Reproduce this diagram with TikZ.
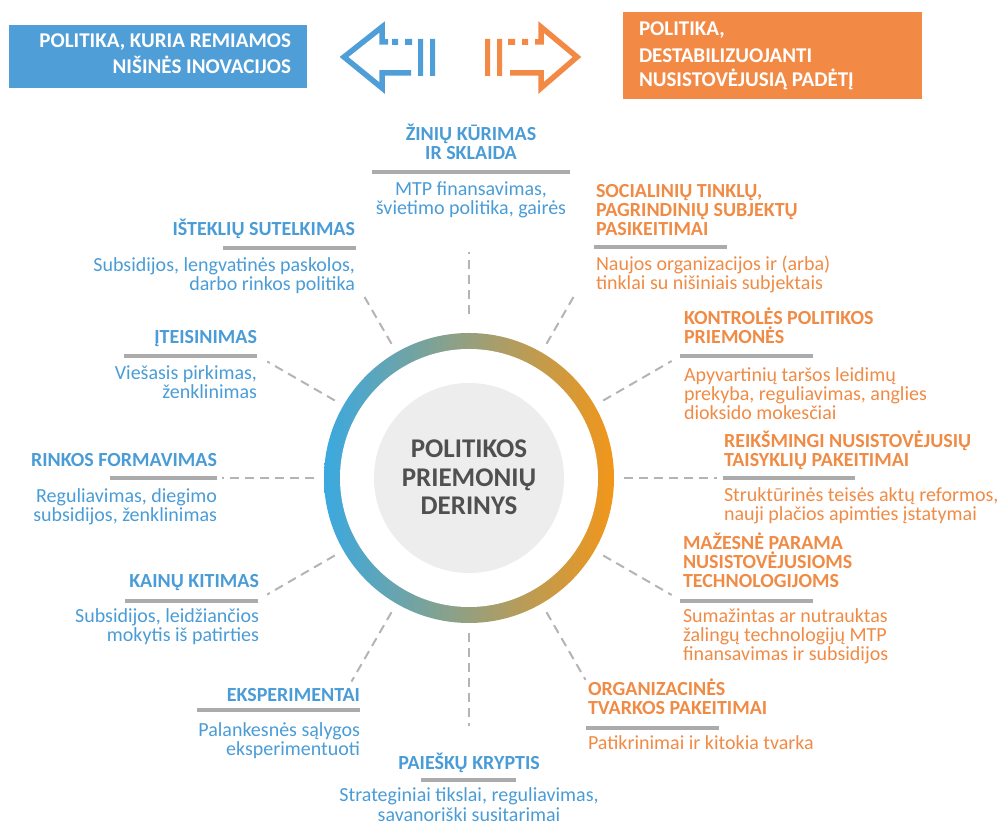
\documentclass[tikz,border=0pt]{standalone}
\usepackage{fontspec}
\setmainfont{Carlito}
\begin{document}
\begin{tikzpicture}[x=1pt, y=1pt, inner sep=0pt, outer sep=0pt,
  ttl/.style={font=\fontsize{20}{20}\selectfont\bfseries},
  txt/.style={font=\fontsize{20}{20}\selectfont},
  boxtxt/.style={font=\fontsize{21}{21}\selectfont\bfseries, text=white},
  rule/.style={line width=3.5pt, draw=G},
  spoke/.style={line width=2pt, draw=D, dash pattern=on 9pt off 6pt},
  arw/.style={line width=5.5pt, line join=miter}]
\useasboundingbox (0,0) rectangle (997,827);
\definecolor{B}{HTML}{4A9CD7}
\definecolor{O}{HTML}{F08B45}
\definecolor{BB}{HTML}{4F9ED7}
\definecolor{OB}{HTML}{F28A46}
\definecolor{G}{HTML}{ABABAB}
\definecolor{D}{HTML}{B4B4B4}
\definecolor{C}{HTML}{ECEDEC}
\definecolor{T}{HTML}{505050}
\definecolor{R1}{HTML}{3AA9E0}
\definecolor{R2}{HTML}{ABA894}
\definecolor{R3}{HTML}{F29619}
% top boxes
\fill[BB] (9,739) rectangle (307,802);
\node[boxtxt, anchor=base east] (lb1) at (291,779) {POLITIKA, KURIA REMIAMOS};
\node[boxtxt, anchor=base east] (lb2) at (291,753) {NIŠINĖS INOVACIJOS};
\fill[OB] (623,728) rectangle (922,815);
\node[boxtxt, anchor=base west] (rb1) at (639,791) {POLITIKA,};
\node[boxtxt, anchor=base west] (rb2) at (639,764) {DESTABILIZUOJANTI};
\node[boxtxt, anchor=base west] (rb3) at (639,740) {NUSISTOVĖJUSIĄ PADĖTĮ};
% arrows
\path[arw, draw=BB] (388,785) -- (382,785) -- (382,800) -- (344,770) -- (382,739) -- (382,754) -- (411,754);
\fill[BB] (392,782) rectangle (398,788) (405,782) rectangle (412,788);
\fill[BB] (418,751) rectangle (423,788) (430,751) rectangle (435,788);
\path[arw, draw=OB] (535,785) -- (541,785) -- (541,800) -- (577,770) -- (541,739) -- (541,754) -- (510,754);
\fill[OB] (522,782) rectangle (528,788) (508,782) rectangle (515,788);
\fill[OB] (497,751) rectangle (502,788) (485,751) rectangle (490,788);
% centre
\coordinate (c) at (469,349);
\shade[left color=R1, middle color=R2, right color=R3] (c) circle (145pt);
\fill[white] (c) circle (129pt);
\fill[C] (c) circle (95pt);
\node[font=\fontsize{27}{27}\selectfont\bfseries, text=T, anchor=base] (m1) at (469,369) {POLITIKOS};
\node[font=\fontsize{27}{27}\selectfont\bfseries, text=T, anchor=base] (m2) at (469,340) {PRIEMONIŲ};
\node[font=\fontsize{27}{27}\selectfont\bfseries, text=T, anchor=base] (m3) at (469,312) {DERINYS};
% spokes
\foreach \a/\p/\q in {90/164/226, 120/155/209, 150/155/233, 180/155/247, 210/155/233, 240/155/235,
  270/155/248, 300/155/233, 330/155/234, 0/155/248, 30/155/234, 60/155/209}
  \path[spoke] ([shift={(\a:\p)}]c) -- ([shift={(\a:\q)}]c);
% top and bottom
\node[ttl, text=B, anchor=base] (t0a) at (471,686) {ŽINIŲ KŪRIMAS};
\node[ttl, text=B, anchor=base] (t0b) at (471,667) {IR SKLAIDA};
\path[rule] (372,655) -- (570,655);
\node[txt, text=B, anchor=base] (b0a) at (471,631) {MTP finansavimas,};
\node[txt, text=B, anchor=base] (b0b) at (471,612) {švietimo politika, gairės};
\node[ttl, text=B, anchor=base] (t11) at (469,57) {PAIEŠKŲ KRYPTIS};
\path[rule] (421,47) -- (516,47);
\node[txt, text=B, anchor=base] (b11a) at (469,25) {Strateginiai tikslai, reguliavimas,};
\node[txt, text=B, anchor=base] (b11b) at (469,5) {savanoriški susitarimai};
% left side
\node[ttl, text=B, anchor=base east] (t1) at (355,591) {IŠTEKLIŲ SUTELKIMAS};
\path[rule] (223,579) -- (356,579);
\node[txt, text=B, anchor=base east] (b1a) at (355,555) {Subsidijos, lengvatinės paskolos,};
\node[txt, text=B, anchor=base east] (b1b) at (355,536) {darbo rinkos politika};
\node[ttl, text=B, anchor=base east] (t2) at (257,483) {ĮTEISINIMAS};
\path[rule] (124,471) -- (257,471);
\node[txt, text=B, anchor=base east] (b2a) at (257,447) {Viešasis pirkimas,};
\node[txt, text=B, anchor=base east] (b2b) at (257,428) {ženklinimas};
\node[ttl, text=B, anchor=base east] (t3) at (217,360) {RINKOS FORMAVIMAS};
\path[rule] (110,349) -- (217,349);
\node[txt, text=B, anchor=base east] (b3a) at (217,324) {Reguliavimas, diegimo};
\node[txt, text=B, anchor=base east] (b3b) at (217,305) {subsidijos, ženklinimas};
\node[ttl, text=B, anchor=base east] (t4) at (259,239) {KAINŲ KITIMAS};
\path[rule] (125,226) -- (258,226);
\node[txt, text=B, anchor=base east] (b4a) at (259,204) {Subsidijos, leidžiančios};
\node[txt, text=B, anchor=base east] (b4b) at (259,185) {mokytis iš patirties};
\node[ttl, text=B, anchor=base east] (t5) at (360,125) {EKSPERIMENTAI};
\path[rule] (197,117) -- (360,117);
\node[txt, text=B, anchor=base east] (b5a) at (360,90) {Palankesnės sąlygos};
\node[txt, text=B, anchor=base east] (b5b) at (360,71) {eksperimentuoti};
% right side
\node[ttl, text=O, anchor=base west] (t6a) at (596,629) {SOCIALINIŲ TINKLŲ,};
\node[ttl, text=O, anchor=base west] (t6b) at (596,610) {PAGRINDINIŲ SUBJEKTŲ};
\node[ttl, text=O, anchor=base west] (t6c) at (596,591) {PASIKEITIMAI};
\path[rule] (594,580) -- (727,580);
\node[txt, text=O, anchor=base west] (b6a) at (596,556) {Naujos organizacijos ir (arba)};
\node[txt, text=O, anchor=base west] (b6b) at (596,537) {tinklai su nišiniais subjektais};
\node[ttl, text=O, anchor=base west] (t7a) at (684,502) {KONTROLĖS POLITIKOS};
\node[ttl, text=O, anchor=base west] (t7b) at (684,483) {PRIEMONĖS};
\path[rule] (680,471) -- (813,471);
\node[txt, text=O, anchor=base west] (b7a) at (684,445) {Apyvartinių taršos leidimų};
\node[txt, text=O, anchor=base west] (b7b) at (684,426) {prekyba, reguliavimas, anglies};
\node[txt, text=O, anchor=base west] (b7c) at (684,407) {dioksido mokesčiai};
\node[ttl, text=O, anchor=base west] (t8a) at (724,379) {REIKŠMINGI NUSISTOVĖJUSIŲ};
\node[ttl, text=O, anchor=base west] (t8b) at (724,360) {TAISYKLIŲ PAKEITIMAI};
\path[rule] (723,349) -- (855,349);
\node[txt, text=O, anchor=base west] (b8a) at (724,325) {Struktūrinės teisės aktų reformos,};
\node[txt, text=O, anchor=base west] (b8b) at (724,306) {nauji plačios apimties įstatymai};
\node[ttl, text=O, anchor=base west] (t9a) at (683,277) {MAŽESNĖ PARAMA};
\node[ttl, text=O, anchor=base west] (t9b) at (683,258) {NUSISTOVĖJUSIOMS};
\node[ttl, text=O, anchor=base west] (t9c) at (683,239) {TECHNOLOGIJOMS};
\path[rule] (680,226) -- (813,226);
\node[txt, text=O, anchor=base west] (b9a) at (683,204) {Sumažintas ar nutrauktas};
\node[txt, text=O, anchor=base west] (b9b) at (683,185) {žalingų technologijų MTP};
\node[txt, text=O, anchor=base west] (b9c) at (683,166) {finansavimas ir subsidijos};
\node[ttl, text=O, anchor=base west] (t10a) at (588,131) {ORGANIZACINĖS};
\node[ttl, text=O, anchor=base west] (t10b) at (588,112) {TVARKOS PAKEITIMAI};
\path[rule] (586,99) -- (719,99);
\node[txt, text=O, anchor=base west] (b10a) at (588,77) {Patikrinimai ir kitokia tvarka};
\end{tikzpicture}
\end{document}
